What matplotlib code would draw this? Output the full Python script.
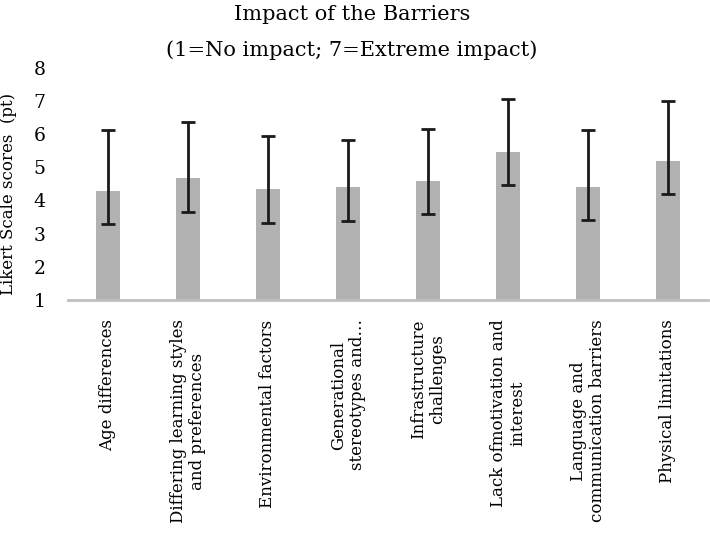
import matplotlib
matplotlib.use("Agg")
import matplotlib.pyplot as plt
import numpy as np

categories = [
    "Age differences",
    "Differing learning styles\nand preferences",
    "Environmental factors",
    "Generational\nstereotypes and\u2026",
    "Infrastructure\nchallenges",
    "Lack ofmotivation and\ninterest",
    "Language and\ncommunication barriers",
    "Physical limitations",
]
means = [4.28, 4.66, 4.33, 4.39, 4.58, 5.46, 4.40, 5.20]
err_low = [1.00, 1.00, 1.00, 1.00, 1.00, 1.01, 0.99, 1.02]
err_high = [1.83, 1.69, 1.60, 1.43, 1.56, 1.59, 1.71, 1.78]
yticks = [1, 2, 3, 4, 5, 6, 7, 8]

plt.rcParams['font.family'] = ['DejaVu Serif']

fig = plt.figure(figsize=(7.10, 5.39), dpi=100)
ax = fig.add_axes([68/710, 1-300/539, 640/710, (300-67.6)/539])

x = np.arange(len(categories))
bottom = 1
ax.bar(x, np.array(means) - bottom, bottom=bottom, width=0.31, color="#b2b2b2", zorder=2)
ax.errorbar(x, means, yerr=[err_low, err_high], fmt='none', ecolor="#1a1a1a",
            elinewidth=2, capsize=5, capthick=2, zorder=3)

ax.set_xlim(-0.5, 7.5)
ax.set_ylim(1, 8)
ax.set_yticks(yticks)
ax.set_yticklabels([str(t) for t in yticks], fontsize=13.5)
ax.set_xticks(x)
ax.set_xticklabels(categories, rotation=90, fontsize=12, ha='center', va='top',
                   multialignment='center')
ax.tick_params(axis='both', length=0)
ax.tick_params(axis='x', pad=14)
ax.tick_params(axis='y', pad=16)
for s in ['top', 'right', 'left']:
    ax.spines[s].set_visible(False)
ax.spines['bottom'].set_color("#bfbfbf")
ax.spines['bottom'].set_linewidth(2)

ax.set_ylabel("Likert Scale scores  (pt)", fontsize=12)
ax.yaxis.set_label_coords(-0.08, 0.455)
fig.text(352/710, 1-15/539, "Impact of the Barriers", ha='center', va='center', fontsize=15)
fig.text(352/710, 1-50/539, "(1=No impact; 7=Extreme impact)", ha='center', va='center', fontsize=15)

fig.savefig("out.png", dpi=100)
